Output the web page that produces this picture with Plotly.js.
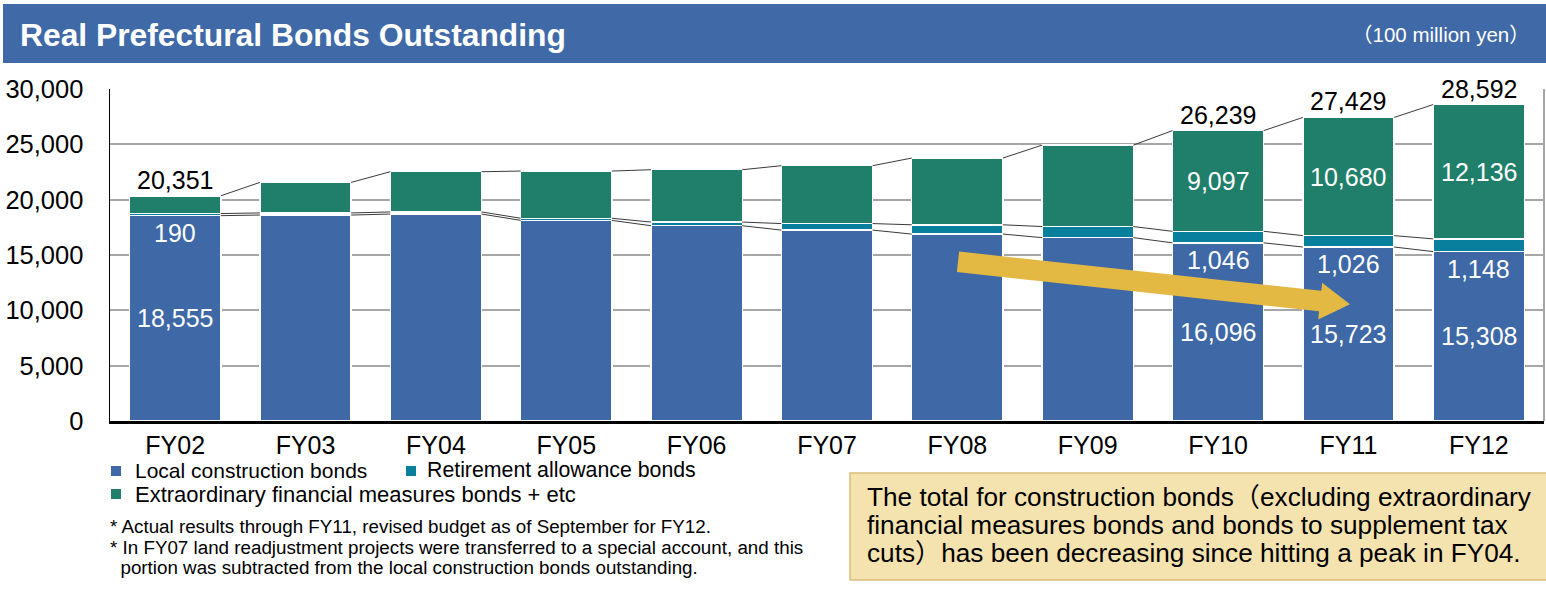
<!DOCTYPE html>
<html>
<head>
<meta charset="utf-8">
<script src="https://cdn.plot.ly/plotly-3.0.1.min.js"></script>
<style>
  html, body { margin: 0; padding: 0; background: #ffffff; }
  #chart { width: 1546px; height: 589px; }
</style>
</head>
<body>
<div id="chart"></div>
<script>
// ---------------- data ----------------
const categories = ['FY02','FY03','FY04','FY05','FY06','FY07','FY08','FY09','FY10','FY11','FY12'];
const localConstructionBonds   = [18555, 18610, 18700, 18130, 17645, 17250, 16890, 16570, 16096, 15723, 15308];
const retirementAllowanceBonds = [190, 190, 190, 190, 330, 590, 840, 1000, 1046, 1026, 1148];
const extraordinaryBonds       = [1606, 2760, 3635, 4265, 4730, 5230, 6030, 7360, 9097, 10680, 12136];
const seriesNames = ['Local construction bonds', 'Retirement allowance bonds', 'Extraordinary financial measures bonds + etc'];
const labeledTotals = ['FY02','FY10','FY11','FY12'];
const labeledExtra  = ['FY10','FY11','FY12'];
const yTickValues = [0, 5000, 10000, 15000, 20000, 25000, 30000];
const chartTitle = 'Real Prefectural Bonds Outstanding';
const unitText = '（100 million yen）';
const notes = [
  '* Actual results through FY11, revised budget as of September for FY12.',
  '* In FY07 land readjustment projects were transferred to a special account, and this',
  '  portion was subtracted from the local construction bonds outstanding.'
];
const boxLines = [
  'The total for construction bonds（excluding extraordinary',
  'financial measures bonds and bonds to supplement tax',
  'cuts）has been decreasing since hitting a peak in FY04.'
];

// ---------------- geometry helpers ----------------
const W = 1546, H = 589, ML = 110, MR = 2, MT = 89, MB = 168;
const PW = W - ML - MR, PH = H - MT - MB;
const YMAX = 30000;
const BARW = 0.7;
const px2paperX = px => (px - ML) / PW;
const py2paperY = py => (H - MB - py) / PH;
const px2dataX = px => (px - ML) / PW * categories.length - 0.5;
const py2dataY = py => (H - MB - py) / PH * YMAX;

const FONT = '"Liberation Sans", Arial, "Noto Sans CJK JP", sans-serif';
const C_LOCAL = '#3E68A6', C_RET = '#077F9D', C_EXTRA = '#1F7F6A';
const fmt = v => v.toLocaleString('en-US');

const xIdx = categories.map((c, i) => i);
const lvlLocal = localConstructionBonds.slice();
const lvlRet = localConstructionBonds.map((v, i) => v + retirementAllowanceBonds[i]);
const lvlTotal = lvlRet.map((v, i) => v + extraordinaryBonds[i]);

// ---------------- traces ----------------
const barCommon = {
  type: 'bar', x: xIdx, width: BARW, hoverinfo: 'skip', showlegend: false
};
const traces = [
  Object.assign({}, barCommon, { name: seriesNames[0], y: localConstructionBonds,
    marker: { color: C_LOCAL, line: { color: '#ffffff', width: 1.5 } } }),
  Object.assign({}, barCommon, { name: seriesNames[1], y: retirementAllowanceBonds,
    marker: { color: C_RET, line: { color: '#ffffff', width: 1.5 } } }),
  Object.assign({}, barCommon, { name: seriesNames[2], y: extraordinaryBonds,
    marker: { color: C_EXTRA, line: { color: '#ffffff', width: 1.5 } } })
];

// series connector lines between bars
function connector(levels) {
  const xs = [], ys = [];
  for (let i = 0; i < levels.length - 1; i++) {
    xs.push(i + BARW / 2, i + 1 - BARW / 2, null);
    ys.push(levels[i], levels[i + 1], null);
  }
  return { type: 'scatter', mode: 'lines', x: xs, y: ys, hoverinfo: 'skip', showlegend: false,
           line: { color: '#3a3a3a', width: 1 }, connectgaps: false };
}
traces.push(connector(lvlTotal), connector(lvlRet), connector(lvlLocal));

// ---------------- annotations ----------------
const annotations = [];
categories.forEach((c, i) => {
  if (labeledTotals.includes(c)) {
    annotations.push({ x: i, y: lvlTotal[i], xref: 'x', yref: 'y', text: fmt(lvlTotal[i]),
      showarrow: false, yanchor: 'bottom', yshift: 0, font: { family: FONT, size: 25, color: '#000' } });
    annotations.push({ x: i, y: lvlLocal[i], xref: 'x', yref: 'y', text: fmt(retirementAllowanceBonds[i]),
      showarrow: false, yanchor: 'top', yshift: -1, font: { family: FONT, size: 25, color: '#fff' } });
    annotations.push({ x: i, y: localConstructionBonds[i] / 2, xref: 'x', yref: 'y', text: fmt(localConstructionBonds[i]),
      showarrow: false, yanchor: 'middle', font: { family: FONT, size: 25, color: '#fff' } });
  }
  if (labeledExtra.includes(c)) {
    annotations.push({ x: i, y: lvlRet[i] + extraordinaryBonds[i] / 2, xref: 'x', yref: 'y', text: fmt(extraordinaryBonds[i]),
      showarrow: false, yanchor: 'middle', font: { family: FONT, size: 25, color: '#fff' } });
  }
});

// unit label in title bar
annotations.push({ xref: 'paper', yref: 'paper', x: px2paperX(1532), y: py2paperY(35), xanchor: 'right', yanchor: 'middle',
  text: unitText, showarrow: false, font: { family: FONT, size: 20.5, color: '#ffffff' } });

// legend (custom layout: two rows)
const legendItems = [
  { name: seriesNames[0], color: C_LOCAL, sx: 111, sy: 466, tx: 133, ty: 470, fs: 21 },
  { name: seriesNames[1], color: C_RET,   sx: 406, sy: 466, tx: 425, ty: 470, fs: 21.3 },
  { name: seriesNames[2], color: C_EXTRA, sx: 111, sy: 489, tx: 133, ty: 494, fs: 22 }
];
const shapes = [];
legendItems.forEach(it => {
  shapes.push({ type: 'rect', xref: 'paper', yref: 'paper', x0: px2paperX(it.sx), x1: px2paperX(it.sx + 10),
    y0: py2paperY(it.sy + 10), y1: py2paperY(it.sy), fillcolor: it.color, line: { width: 0 } });
  annotations.push({ xref: 'paper', yref: 'paper', x: px2paperX(it.tx), y: py2paperY(it.ty), xanchor: 'left', yanchor: 'middle',
    text: it.name, showarrow: false, font: { family: FONT, size: it.fs, color: '#000' } });
});

// notes
const noteY = [526, 547, 567];
notes.forEach((t, k) => {
  annotations.push({ xref: 'paper', yref: 'paper', x: px2paperX(108), y: py2paperY(noteY[k]), xanchor: 'left', yanchor: 'middle',
    text: t.replace(/^  /, '&nbsp;&nbsp;'), showarrow: false, font: { family: FONT, size: 18.8, color: '#000' } });
});

// text box
shapes.push({ type: 'rect', xref: 'paper', yref: 'paper', x0: px2paperX(850), x1: px2paperX(1548),
  y0: py2paperY(580), y1: py2paperY(473), fillcolor: '#F5E3AF', line: { color: '#D9BF7A', width: 1.5 }, layer: 'below' });
const boxY = [497, 525, 553];
boxLines.forEach((t, k) => {
  annotations.push({ xref: 'paper', yref: 'paper', x: px2paperX(865), y: py2paperY(boxY[k]), xanchor: 'left', yanchor: 'middle',
    text: t, showarrow: false, font: { family: FONT, size: 26.2, color: '#000' } });
});

// title bar
shapes.push({ type: 'rect', xref: 'paper', yref: 'paper', x0: px2paperX(3), x1: px2paperX(1548),
  y0: py2paperY(63), y1: py2paperY(4), fillcolor: '#3F69A7', line: { width: 0 }, layer: 'below' });

// right frame of plot area
shapes.push({ type: 'line', xref: 'paper', yref: 'y', x0: 1, x1: 1, y0: 0, y1: YMAX, line: { color: '#A6A6A6', width: 2 } });

// trend arrow (decoration), built in pixel space and mapped to axes
(function () {
  const tail = [958, 261.8], tip = [1350, 304.3];
  const dx = tip[0] - tail[0], dy = tip[1] - tail[1];
  const L = Math.hypot(dx, dy), ux = dx / L, uy = dy / L, nx = -uy, ny = ux;
  const half = 10.3, headHalf = 18.5, headLen = 30;
  const bx = tip[0] - ux * headLen, by = tip[1] - uy * headLen;
  const pts = [
    [tail[0] - nx * half, tail[1] - ny * half],
    [bx - nx * half, by - ny * half],
    [bx - nx * headHalf, by - ny * headHalf],
    [tip[0], tip[1]],
    [bx + nx * headHalf, by + ny * headHalf],
    [bx + nx * half, by + ny * half],
    [tail[0] + nx * half, tail[1] + ny * half]
  ];
  const path = 'M ' + pts.map(p => px2dataX(p[0]).toFixed(4) + ',' + py2dataY(p[1]).toFixed(1)).join(' L ') + ' Z';
  shapes.push({ type: 'path', xref: 'x', yref: 'y', path: path, fillcolor: '#E3B843', line: { width: 0 }, layer: 'above' });
})();

// ---------------- layout ----------------
const layout = {
  width: W, height: H,
  margin: { l: ML, r: MR, t: MT, b: MB, pad: 0 },
  paper_bgcolor: '#ffffff', plot_bgcolor: '#ffffff',
  barmode: 'stack', bargap: 0.3,
  showlegend: false,
  title: { text: chartTitle, x: 20 / W, xanchor: 'left', xref: 'container', y: 1 - 35 / H, yanchor: 'middle', yref: 'container',
    font: { family: FONT, size: 31.8, color: '#ffffff', weight: 700 } },
  xaxis: {
    type: 'linear', range: [-0.5, categories.length - 0.5], tickmode: 'array', tickvals: xIdx, ticktext: categories,
    showgrid: false, zeroline: false, showline: true, linecolor: '#000', linewidth: 3, ticks: '',
    tickfont: { family: FONT, size: 25, color: '#000' }, ticklabelstandoff: 0, fixedrange: true
  },
  yaxis: {
    range: [0, YMAX], tickmode: 'array', tickvals: yTickValues, ticktext: yTickValues.map(fmt),
    showgrid: true, gridcolor: '#A6A6A6', gridwidth: 2, zeroline: false,
    showline: true, linecolor: '#000', linewidth: 1.5, ticks: '', ticklabelstandoff: 20,
    tickfont: { family: FONT, size: 25.5, color: '#000' }, fixedrange: true
  },
  annotations: annotations,
  shapes: shapes
};

Plotly.newPlot('chart', traces, layout, { staticPlot: true, displayModeBar: false });
</script>
</body>
</html>
